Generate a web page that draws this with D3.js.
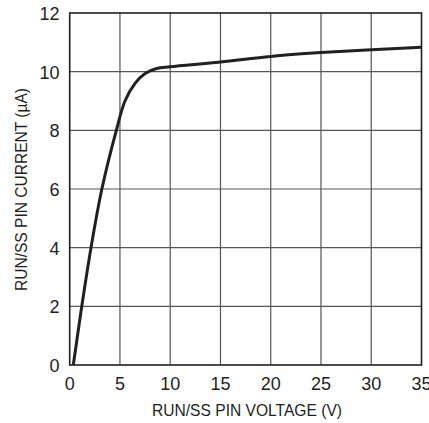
<!DOCTYPE html>
<html>
<head>
<meta charset="utf-8">
<script src="https://cdn.jsdelivr.net/npm/d3@7"></script>
<style>
  body { margin: 0; background: #fff; }
  text { font-family: "Liberation Sans Narrow", "Arial Narrow", sans-serif; fill: #231f20; }
</style>
</head>
<body>
<svg id="chart" width="429" height="423"></svg>
<script>
// RUN/SS pin current vs voltage
var voltage = [0.36, 1.2, 2.12, 3.2, 4.64, 5.5, 6.5, 7.5, 8.65, 10, 15, 20, 25, 30, 35];
var current = [0, 2, 4, 6, 8, 9.0, 9.6, 9.94, 10.11, 10.17, 10.33, 10.52, 10.65, 10.75, 10.83];
var xTicks = [0, 5, 10, 15, 20, 25, 30, 35];
var yTicks = [0, 2, 4, 6, 8, 10, 12];

var svg = d3.select("#chart");
// plot box (avoid window.top name clash)
var pLeft = 69.7, pRight = 421.5, pTop = 13, pBottom = 365;

var x = d3.scaleLinear().domain([0, 35]).range([pLeft, pRight]);
var y = d3.scaleLinear().domain([0, 12]).range([pBottom, pTop]);

// grid
svg.append("g").selectAll("line").data(xTicks.slice(1, -1)).enter()
	.append("line")
		.attr("x1", function(d){ return x(d); })
		.attr("x2", function(d){ return x(d); })
		.attr("y1", pTop).attr("y2", pBottom)
		.attr("stroke", "#555").attr("stroke-width", 1.2);
svg.append("g").selectAll("line").data(yTicks.slice(1, -1)).enter()
	.append("line")
		.attr("y1", function(d){ return y(d); })
		.attr("y2", function(d){ return y(d); })
		.attr("x1", pLeft).attr("x2", pRight)
		.attr("stroke", "#555").attr("stroke-width", 1.2);

// frame
svg.append("rect")
	.attr("x", pLeft).attr("y", pTop)
	.attr("width", pRight - pLeft).attr("height", pBottom - pTop)
	.attr("fill", "none").attr("stroke", "#231f20").attr("stroke-width", 1.6);

// tick labels
svg.append("g").selectAll("text").data(xTicks).enter()
	.append("text")
		.attr("x", function(d){ return x(d); })
		.attr("y", 390)
		.attr("text-anchor", "middle")
		.attr("font-size", "18px")
		.text(function(d){ return d; });
svg.append("g").selectAll("text").data(yTicks).enter()
	.append("text")
		.attr("x", 59.5)
		.attr("y", function(d){ return y(d) + 7; })
		.attr("text-anchor", "end")
		.attr("font-size", "18px")
		.text(function(d){ return d; });

// axis titles
svg.append("text")
	.attr("x", 152).attr("y", 416)
	.attr("font-size", "17px")
	.attr("textLength", 190)
	.attr("lengthAdjust", "spacingAndGlyphs")
	.text("RUN/SS PIN VOLTAGE (V)");
svg.append("text")
	.attr("transform", "translate(27,291) rotate(-90)")
	.attr("font-size", "17px")
	.attr("textLength", 203)
	.attr("lengthAdjust", "spacingAndGlyphs")
	.text("RUN/SS PIN CURRENT (\u00b5A)");

// curve
var line = d3.line()
	.x(function(d, i){ return x(voltage[i]); })
	.y(function(d, i){ return y(current[i]); })
	.curve(d3.curveCatmullRom.alpha(0.5));
svg.append("path")
	.datum(voltage)
	.attr("d", line)
	.attr("fill", "none")
	.attr("stroke", "#231f20")
	.attr("stroke-width", 3);
</script>
</body>
</html>
